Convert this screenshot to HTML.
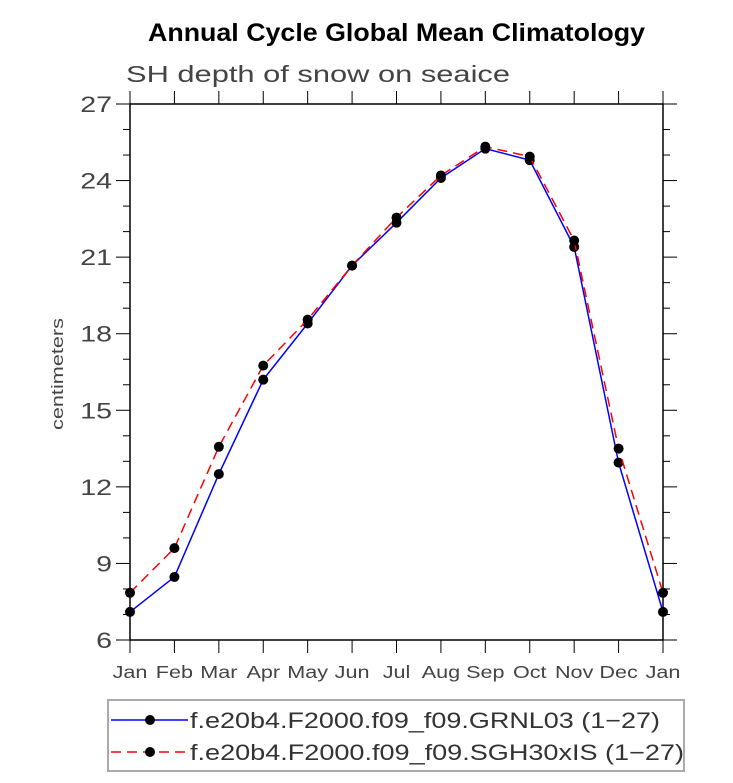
<!DOCTYPE html>
<html><head><meta charset="utf-8"><style>
body{margin:0;background:#fff;}
svg text{font-family:"Liberation Sans",sans-serif;}
</style></head><body>
<svg id="chart" width="733" height="778" xmlns="http://www.w3.org/2000/svg">
<text x="148" y="41" font-size="25" font-weight="bold" textLength="497" lengthAdjust="spacingAndGlyphs">Annual Cycle Global Mean Climatology</text>
<text x="126" y="82" font-size="23" fill="#444" textLength="384" lengthAdjust="spacingAndGlyphs">SH depth of snow on seaice</text>
<text transform="translate(63,374) rotate(-90)" x="-56" y="0" font-size="17" fill="#444" textLength="112" lengthAdjust="spacingAndGlyphs">centimeters</text>
<g id="axes"></g>
<g id="series"></g>
<rect x="108" y="700" width="576" height="71" fill="none" stroke="#aaa" stroke-width="2"/>
<g>
<line x1="111" y1="720" x2="188" y2="720" stroke="#0000ff" stroke-width="1.5"/>
<circle cx="150" cy="720" r="5" fill="#000"/>
<text x="190" y="728" font-size="22" fill="#333" textLength="470" lengthAdjust="spacingAndGlyphs">f.e20b4.F2000.f09_f09.GRNL03 (1−27)</text>
</g>
<g>
<line x1="111" y1="752" x2="188" y2="752" stroke="#ff0000" stroke-width="1.5" stroke-dasharray="10,6"/>
<circle cx="150" cy="752" r="5" fill="#000"/>
<text x="190" y="760" font-size="22" fill="#333" textLength="494" lengthAdjust="spacingAndGlyphs">f.e20b4.F2000.f09_f09.SGH30xIS (1−27)</text>
</g>
</svg>
<script>
const months=["Jan","Feb","Mar","Apr","May","Jun","Jul","Aug","Sep","Oct","Nov","Dec","Jan"];
const yTicks=[6,9,12,15,18,21,24,27];
const grnl03=[7.1,8.47,12.5,16.2,18.4,20.67,22.35,24.1,25.25,24.8,21.4,12.95,7.1];
const sgh30xis=[7.85,9.6,13.57,16.75,18.55,20.67,22.55,24.2,25.33,24.94,21.65,13.5,7.85];
const X0=130,X1=663,Y0=640,Y1=104,YMIN=6,YMAX=27;
const ns="http://www.w3.org/2000/svg";
function xs(i){return X0+(X1-X0)*i/(months.length-1);}
function ys(v){return Y0-(Y0-Y1)*(v-YMIN)/(YMAX-YMIN);}
function mk(t,a,p){const e=document.createElementNS(ns,t);for(const k in a)e.setAttribute(k,a[k]);p.appendChild(e);return e;}
const ax=document.getElementById('axes');
const frame=mk('rect',{x:X0,y:Y1,width:X1-X0,height:Y0-Y1,fill:'none',stroke:'#000','stroke-width':1.5},ax);


for(let v=YMIN;v<=YMAX;v++){
  const major=(v-YMIN)%3===0,L=major?14:7,y=ys(v);
  mk('line',{x1:X0-L,y1:y,x2:X0,y2:y,stroke:'#000','stroke-width':1},ax);
  mk('line',{x1:X1,y1:y,x2:X1+L,y2:y,stroke:'#000','stroke-width':1},ax);
}
yTicks.forEach(v=>{
  const t=mk('text',{transform:'translate('+(X0-18)+','+(ys(v)+8)+') scale(1.3,1)','text-anchor':'end','font-size':22,fill:'#444'},ax);
  t.textContent=v;
  
  
});
months.forEach((m,i)=>{
  const x=xs(i);
  mk('line',{x1:x,y1:Y0,x2:x,y2:Y0+13,stroke:'#000','stroke-width':1},ax);
  mk('line',{x1:x,y1:Y1-13,x2:x,y2:Y1,stroke:'#000','stroke-width':1},ax);
  const t=mk('text',{transform:'translate('+x+','+(Y0+38)+') scale(1.2,1)','text-anchor':'middle','font-size':18,fill:'#444'},ax);
  t.textContent=m;
  
  
});
const sg=document.getElementById('series');
function draw(vals,color,dash,name){
  const g=mk('g',{},sg);
  
  
  const a={points:vals.map((v,i)=>xs(i)+','+ys(v)).join(' '),fill:'none',stroke:color,'stroke-width':1.5};
  if(dash)a['stroke-dasharray']=dash;
  mk('polyline',a,g);
  vals.forEach((v,i)=>{const c=mk('circle',{cx:xs(i),cy:ys(v),r:5,fill:'#000'},g);
    
    });
}
draw(grnl03,'#0000ff',null,'series-grnl03');
draw(sgh30xis,'#ff0000','10,6','series-sgh30xis');
</script>
</body></html>
